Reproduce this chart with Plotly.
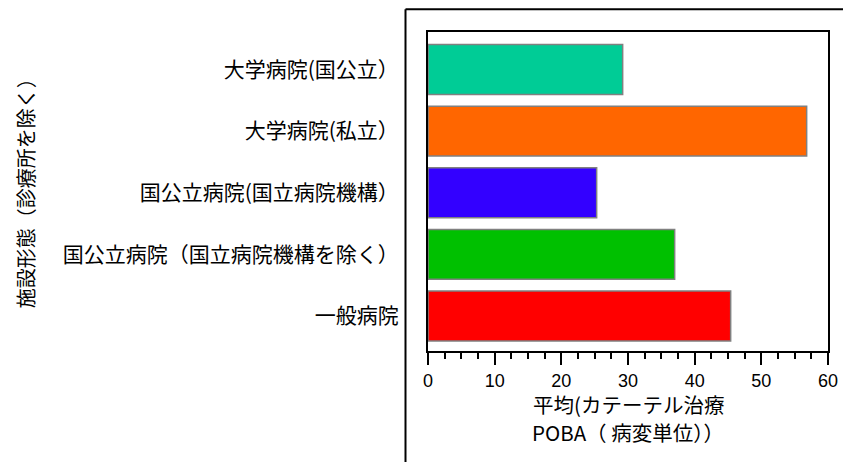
import plotly.graph_objects as go

categories = [
    "一般病院",
    "国公立病院（国立病院機構を除く）",
    "国公立病院(国立病院機構）",
    "大学病院(私立）",
    "大学病院(国公立）",
]
values = [45.4, 37.0, 25.3, 56.8, 29.2]
colors = ["#FF0000", "#00C000", "#3300FF", "#FF6600", "#00CC96"]
x_ticks = [0, 10, 20, 30, 40, 50, 60]
x_title_lines = ["平均(カテーテル治療", "POBA（ 病変単位））"]
y_title = "施設形態（診療所を除く）"

FONT = "Noto Sans CJK JP"

fig = go.Figure()
fig.add_trace(go.Bar(
    x=values, y=categories, orientation="h",
    marker=dict(color=colors, line=dict(color="#808080", width=1.5)),
    width=0.81,
    showlegend=False,
))

fig.update_layout(
    width=843, height=462,
    margin=dict(l=428, r=15, t=32, b=111, autoexpand=False),
    paper_bgcolor="white", plot_bgcolor="white",
    font=dict(family=FONT, color="black"),
    xaxis=dict(
        range=[0, 60], tickvals=x_ticks, ticktext=[str(v) for v in x_ticks],
        showline=True, linecolor="black", linewidth=2, mirror=True,
        ticks="outside", ticklen=12, tickwidth=2, tickcolor="black",
        minor=dict(dtick=2.5, ticks="outside", ticklen=6, tickwidth=2, tickcolor="black"),
        showgrid=False, zeroline=False, automargin=False,
        tickfont=dict(size=18, family="Liberation Sans, " + FONT),
    ),
    yaxis=dict(
        range=[-0.568, 4.609],
        showline=True, linecolor="black", linewidth=2, mirror=True,
        ticks="", showgrid=False, zeroline=False, automargin=False,
        tickfont=dict(size=21, family=FONT),
        ticklabelstandoff=23,
    ),
    annotations=[
        dict(text=x_title_lines[0], xref="paper", yref="paper",
             x=0.5, y=-0.1661, xanchor="center", yanchor="middle", showarrow=False,
             font=dict(size=20.5, family=FONT)),
        dict(text=x_title_lines[1], xref="paper", yref="paper",
             x=0.5, y=-0.2539, xanchor="center", yanchor="middle", showarrow=False,
             font=dict(size=20.5, family=FONT)),
        dict(text=y_title, xref="paper", yref="paper",
             x=-1.0075, y=0.51, xanchor="center", yanchor="middle", showarrow=False,
             textangle=-90, font=dict(size=20, family=FONT)),
    ],
    shapes=[
        dict(type="line", xref="paper", yref="paper", x0=-0.05625, x1=-0.05625,
             y0=1.0712, y1=-0.4, line=dict(color="black", width=2)),
        dict(type="line", xref="paper", yref="paper", x0=-0.05625, x1=1.06,
             y0=1.0712, y1=1.0712, line=dict(color="black", width=2)),
    ],
)

fig.write_html(
    "out.html",
    config={"displayModeBar": False},
    post_script="document.body.style.margin='0';document.body.style.overflow='hidden';",
)
